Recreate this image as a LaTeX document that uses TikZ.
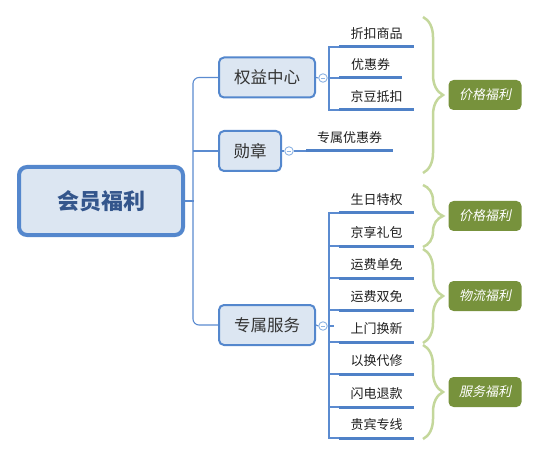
\documentclass[tikz,border=0pt]{standalone}
\usepackage{fontspec}
\setmainfont{Noto Sans CJK SC}
\newfontfamily\cjkit[FakeSlant=0.2]{Noto Sans CJK SC}
\usetikzlibrary{decorations.pathreplacing}
\definecolor{bordblue}{RGB}{84,135,205}
\definecolor{fillblue}{RGB}{220,230,242}
\definecolor{roottext}{RGB}{52,86,140}
\definecolor{linkblue}{RGB}{91,139,208}
\definecolor{ulblue}{RGB}{79,129,199}
\definecolor{bracegreen}{RGB}{196,215,155}
\definecolor{olive}{RGB}{119,146,60}
\definecolor{circblue}{RGB}{142,180,227}
\tikzset{
  rootbox/.style={draw=bordblue, line width=4pt, fill=fillblue, rounded corners=8pt,
    minimum width=164pt, minimum height=68pt, inner sep=0pt,
    font=\fontsize{22}{26}\selectfont\bfseries, text=roottext},
  mainbox/.style={draw=bordblue, line width=2pt, fill=fillblue, rounded corners=5pt,
    minimum height=40pt, inner sep=0pt, font=\fontsize{16.5}{20}\selectfont, text=black!80},
  conn/.style={draw=linkblue, line width=1.1pt},
  leaf/.style={inner sep=0pt, minimum height=26pt, anchor=south west,
    font=\fontsize{13}{16}\selectfont, text=black!88},
  uline/.style={draw=ulblue, line width=3pt},
  knob/.style={circle, draw=circblue, fill=white, line width=0.9pt, minimum size=8.5pt, inner sep=0pt,
    path picture={\draw[circblue, line width=0.8pt] ([xshift=-2.2pt]path picture bounding box.center) -- ([xshift=2.2pt]path picture bounding box.center);}},
  bracepath/.style={draw=bracegreen, line width=2.5pt, decorate,
    decoration={brace, amplitude=20pt}},
  tagbox/.style={fill=olive, rounded corners=5pt, minimum width=73pt, minimum height=30pt,
    inner sep=0pt, text=white, font=\fontsize{13}{16}\selectfont\cjkit}
}
\begin{document}
\begin{tikzpicture}[x=1pt,y=-1pt]
\useasboundingbox (0,0) rectangle (538,457);

% root and main topics
\node[rootbox] (root) at (101,201) {会员福利};
\node[mainbox, minimum width=96pt] (qy) at (267,77.5) {权益中心};
\node[mainbox, minimum width=62pt] (xz) at (250,151) {勋章};
\node[mainbox, minimum width=96pt] (zs) at (267,325) {专属服务};

% trunk
\draw[conn] (root.east) -- ++(9,0);
\draw[conn, rounded corners=6pt] (qy.west) -- ++(-25,0) -- ([xshift=-25pt]zs.west) -- (zs.west);
\draw[conn] (xz.west) -- ++(-25,0);

% knobs
\node[knob] (k1) at (323,78) {};
\node[knob] (k2) at (289,151) {};
\node[knob] (k3) at (323,326) {};
\draw[conn] (qy.east) -- (k1.west);
\draw[conn] (xz.east) -- (k2.west);
\draw[conn] (zs.east) -- (k3.west);

% leaves of 权益中心
\node[leaf, minimum width=75pt] (a1) at (339,47) {折扣商品};
\node[leaf, minimum width=63pt] (a2) at (339,78) {优惠券};
\node[leaf, minimum width=75pt] (a3) at (339,110) {京豆抵扣};
\foreach \n in {a1,a2,a3} {\draw[uline] (\n.south west) -- (\n.south east);}
\draw[conn] (a1.south west) -- ++(-10,0) -- ([xshift=-10pt]a3.south west) -- (a3.south west);
\draw[conn] (k1.east) -- (a2.south west);

% leaf of 勋章
\node[leaf, minimum width=87pt] (b1) at (306,151) {专属优惠券};
\draw[uline] (b1.south west) -- (b1.south east);
\draw[conn] (k2.east) -- (b1.south west);

% leaves of 专属服务
\node[leaf, minimum width=75pt] (s1) at (339,213) {生日特权};
\node[leaf, minimum width=75pt] (s2) at (339,246) {京享礼包};
\node[leaf, minimum width=75pt] (s3) at (339,278) {运费单免};
\node[leaf, minimum width=75pt] (s4) at (339,310) {运费双免};
\node[leaf, minimum width=75pt] (s5) at (339,342) {上门换新};
\node[leaf, minimum width=75pt] (s6) at (339,374) {以换代修};
\node[leaf, minimum width=75pt] (s7) at (339,407) {闪电退款};
\node[leaf, minimum width=75pt] (s8) at (339,438) {贵宾专线};
\foreach \n in {s1,s2,s3,s4,s5,s6,s7,s8} {\draw[uline] (\n.south west) -- (\n.south east);}
\draw[conn] (s1.south west) -- ++(-10,0) -- ([xshift=-10pt]s8.south west) -- (s8.south west);
\foreach \n in {s2,s3,s4,s5,s6,s7} {\draw[conn] (\n.south west) -- ++(-10,0);}
\draw[conn] (k3.east) -- ++(6,0);

% braces and tags
\coordinate (p1) at (423,17);  \coordinate (q1) at (423,173);
\coordinate (p2) at (423,185); \coordinate (q2) at (423,247);
\coordinate (p3) at (423,249); \coordinate (q3) at (423,343);
\coordinate (p4) at (423,345); \coordinate (q4) at (423,439);
\draw[bracepath] (p1) -- (q1);
\draw[bracepath] (p2) -- (q2);
\draw[bracepath] (p3) -- (q3);
\draw[bracepath] (p4) -- (q4);
\node[tagbox] (t1) at (485,95) {价格福利};
\node[tagbox] (t2) at (485,216) {价格福利};
\node[tagbox] (t3) at (485,296) {物流福利};
\node[tagbox] (t4) at (485,392) {服务福利};
\end{tikzpicture}
\end{document}
